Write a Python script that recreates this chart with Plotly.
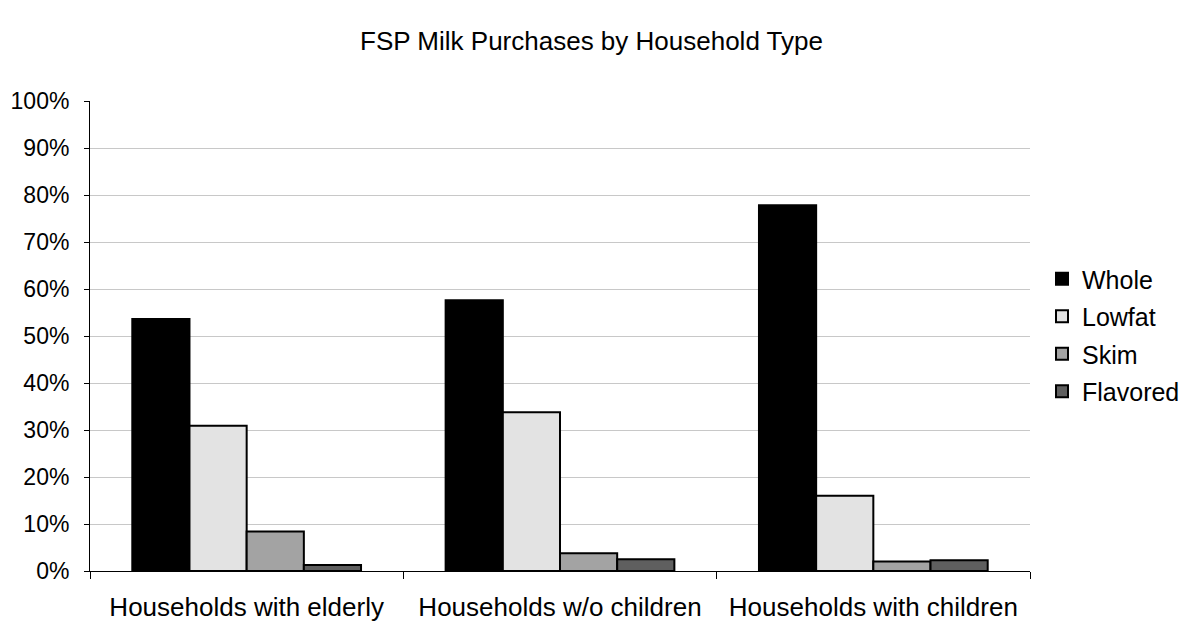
import plotly.graph_objects as go

# Household groups along the x axis
categories = ["Households with elderly", "Households w/o children", "Households with children"]

# Share of FSP milk purchases (percent) by milk type
whole = [53.6, 57.6, 77.8]
lowfat = [30.9, 33.8, 16.0]
skim = [8.4, 3.8, 2.0]
flavored = [1.3, 2.5, 2.3]

series_names = ["Whole", "Lowfat", "Skim", "Flavored"]
series_values = [whole, lowfat, skim, flavored]
series_colors = ["#000000", "#e3e3e3", "#a3a3a3", "#5f5f5f"]

y_ticks = list(range(0, 101, 10))
y_tick_labels = [f"{v}%" for v in y_ticks]

FONT = "Liberation Sans, Arial, sans-serif"
W, H = 1183, 625

fig = go.Figure()
for name, vals, color in zip(series_names, series_values, series_colors):
    fig.add_trace(go.Bar(
        name=name,
        x=categories,
        y=vals,
        marker=dict(color=color, line=dict(color="#000000", width=2)),
        legendgroup=name,
    ))

fig.update_layout(
    width=W,
    height=H,
    paper_bgcolor="white",
    plot_bgcolor="white",
    font=dict(family=FONT, color="#000000"),
    barmode="group",
    bargap=0.27,
    bargroupgap=0,
    margin=dict(l=90, r=153, t=101, b=54, autoexpand=False),
    title=dict(
        text="FSP Milk Purchases by Household Type",
        x=0.5, xref="container", xanchor="center",
        y=1 - 41 / H, yref="container", yanchor="middle",
        font=dict(family=FONT, size=26, color="#000000"),
    ),
    legend=dict(
        xref="container", x=1042 / W, xanchor="left",
        yref="container", y=1 - 335 / H, yanchor="middle",
        font=dict(family=FONT, size=25, color="#000000"),
        tracegroupgap=2,
        bgcolor="rgba(0,0,0,0)",
    ),
    showlegend=True,
)

fig.update_xaxes(
    type="category",
    automargin=False,
    showline=True, linecolor="#000000", linewidth=1,
    ticks="outside", tickson="boundaries", ticklen=7, tickcolor="#000000",
    tickfont=dict(family=FONT, size=26, color="#000000"),
    ticklabelstandoff=13,
    showgrid=False,
)

fig.update_yaxes(
    range=[0, 100],
    automargin=False,
    tickmode="array",
    tickvals=y_ticks,
    ticktext=y_tick_labels,
    showline=True, linecolor="#000000", linewidth=1,
    ticks="outside", ticklen=5, tickcolor="#000000",
    tickfont=dict(family=FONT, size=23, color="#000000"),
    ticklabelstandoff=10,
    showgrid=True, gridcolor="#c8c8c8", gridwidth=1,
    zeroline=False,
)

fig.write_html("out.html")
